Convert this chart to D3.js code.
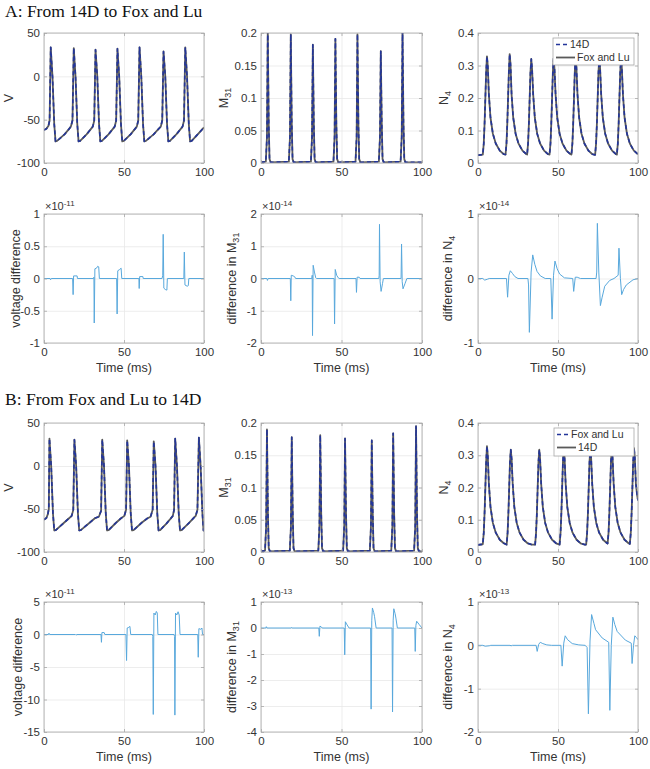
<!DOCTYPE html>
<html><head><meta charset="utf-8">
<script src="https://cdn.jsdelivr.net/npm/d3@7"></script>
<style>body{margin:0;background:#fff}svg{display:block}</style>
</head><body>
<svg id="c" width="650" height="769"></svg>
<script>
// ---------------- DATA ----------------
const xTicks = [0, 50, 100];
const legendA = ["14D", "Fox and Lu"];
const legendB = ["Fox and Lu", "14D"];

// A: membrane voltage V (t ms, mV)
const vA = [[0,-62],[1.5,-60.5],[2.8,-57],[3.5,-51],[4.2,33.4],[5.3,0],[6.4,-55],[7.2,-75],[8.2,-74.5],[12.8,-67],[15.3,-61.5],[16.8,-58],[17.8,-51],
[18.6,32.6],[19.7,0],[20.8,-55],[21.6,-75],[22.6,-74.5],[26.6,-67],[29.0,-61.5],[30.5,-58],[31.4,-51],
[32.2,30.7],[33.3,0],[34.4,-55],[35.2,-75],[36.2,-74.5],[40.3,-67],[42.7,-61.5],[44.2,-58],[45.1,-51],
[45.9,31.8],[47.0,0],[48.1,-55],[48.9,-75],[49.9,-74.5],[54.1,-67],[56.5,-61.5],[58.0,-58],[58.9,-51],
[59.7,33.4],[60.8,0],[61.9,-55],[62.7,-75],[63.7,-74.5],[68.5,-67],[71.2,-61.5],[73.0,-58],[73.9,-51],
[74.7,28.7],[75.8,0],[76.9,-55],[77.7,-75],[78.7,-74.5],[82.7,-67],[85.1,-61.5],[86.6,-58],[87.5,-51],
[88.3,33.4],[89.4,0],[90.5,-55],[91.3,-75],[92.3,-74.5],[96.5,-66],[100,-59]];

const m31A = [[0,0.001],[3.0,0.002],[3.7,0.04],[4.2,0.203],[4.8,0.06],[5.3,0.006],[6.0,0.001],
[17.3,0.002],[18.0,0.04],[18.5,0.198],[19.1,0.06],[19.6,0.006],[20.3,0.001],
[31.0,0.002],[31.7,0.04],[32.2,0.182],[32.8,0.06],[33.3,0.006],[34.0,0.001],
[45.0,0.002],[45.7,0.04],[46.2,0.191],[46.8,0.06],[47.3,0.006],[48.0,0.001],
[58.7,0.002],[59.4,0.04],[59.9,0.198],[60.5,0.06],[61.0,0.006],[61.7,0.001],
[73.2,0.002],[73.9,0.04],[74.4,0.172],[75.0,0.06],[75.5,0.006],[76.2,0.001],
[86.7,0.002],[87.4,0.04],[87.9,0.203],[88.5,0.06],[89.0,0.006],[89.7,0.001],[100,0.001]];

const n4A = [[0,0.024],[3.0,0.026],
[3.6,0.06],[4.1,0.12],[4.6,0.2],[5.1,0.28],[5.6,0.328],[6.1,0.30],[6.8,0.21],[7.8,0.14],[9.3,0.09],[11.1,0.06],[13.6,0.038],[16.1,0.027],
[17.2,0.026],[17.8,0.06],[18.3,0.12],[18.8,0.2],[19.3,0.28],[19.8,0.335],[20.3,0.305],[21.0,0.21],[22.0,0.14],[23.5,0.09],[25.3,0.06],[27.8,0.038],[30.3,0.027],
[30.7,0.026],[31.3,0.06],[31.8,0.12],[32.3,0.2],[32.8,0.28],[33.3,0.320],[33.8,0.29],[34.5,0.21],[35.5,0.14],[37.0,0.09],[38.8,0.06],[41.3,0.038],[43.8,0.027],
[44.7,0.026],[45.3,0.06],[45.8,0.12],[46.3,0.2],[46.8,0.28],[47.3,0.322],[47.8,0.29],[48.5,0.21],[49.5,0.14],[51.0,0.09],[52.8,0.06],[55.3,0.038],[57.8,0.027],
[58.4,0.026],[59.0,0.06],[59.5,0.12],[60.0,0.2],[60.5,0.28],[61.0,0.325],[61.5,0.295],[62.2,0.21],[63.2,0.14],[64.7,0.09],[66.5,0.06],[69.0,0.038],[71.5,0.027],
[73.2,0.025],[73.8,0.06],[74.3,0.12],[74.8,0.2],[75.3,0.28],[75.8,0.323],[76.3,0.293],[77.0,0.21],[78.0,0.14],[79.5,0.09],[81.3,0.06],[83.8,0.038],[86.3,0.027],
[86.8,0.026],[87.4,0.06],[87.9,0.12],[88.4,0.2],[88.9,0.28],[89.4,0.322],[89.9,0.292],[90.6,0.21],[91.6,0.14],[93.1,0.09],[94.9,0.06],[97.4,0.038],[100,0.027]];

// A differences (in units of the axis exponent)
const vDiffA = [[0,0],[3.8,0],[4.1,-0.02],[4.5,0],[17.9,0],[18.2,-0.25],[18.5,0.04],[20.7,0.04],[20.9,0],[30.9,0],[31.2,0.02],[31.4,-0.69],[31.8,0.15],[32.8,0.16],[33.6,0.19],[34.2,0.18],[34.6,0],
[45.4,0],[45.7,-0.55],[46.1,0.12],[47.3,0.14],[48.2,0.16],[48.6,0],[59.3,0],[59.5,-0.155],[59.8,0.03],[61.8,0.03],[62,0],
[73.8,0],[74.2,0.05],[74.5,0.685],[74.9,-0.15],[75.8,-0.17],[76.8,-0.18],[77.1,0],[87.4,0],[87.7,0.41],[88.1,-0.1],[89.5,-0.12],[90.2,-0.11],[90.5,0],[100,0]];
const m31DiffA = [[0,0],[3.7,0],[4.0,-0.06],[4.4,0],[18.2,0],[18.5,-0.69],[18.8,0.1],[20,0.08],[21,0.05],[21.5,0],[31.6,0],[31.8,0.1],[32.0,-1.77],[32.4,0.41],[33.2,0.2],[34,0.02],[34.5,0],
[45.4,0],[45.7,-1.41],[46.1,0.28],[47,0.1],[48,0.02],[48.5,0],[59.0,0],[59.3,-0.43],[59.7,0.04],[61,0.04],[61.5,0],
[73.2,0],[73.4,0.1],[73.6,1.68],[74.0,-0.1],[74.6,-0.4],[75.5,-0.15],[76,0],[87.0,0],[87.3,1.07],[87.7,-0.1],[88.2,-0.32],[89.5,-0.15],[90.6,0],[100,0]];
const n4DiffA = [[0,0],[3,0],[4.2,-0.025],[6,-0.01],[7,0],[17.8,0],[18.5,-0.29],[19.3,0.05],[20.2,0.12],[21.5,0.08],[23,0.03],[25,0],
[31.2,0],[31.6,-0.1],[32.1,-0.835],[33.2,0.1],[34.2,0.366],[35.5,0.22],[36.9,0.11],[39,0.04],[42,0],
[45.5,0],[46.3,-0.63],[47.2,0.05],[48.1,0.27],[49.5,0.15],[51,0.07],[54,0.01],[59.2,0],[59.8,-0.2],[60.8,0.02],[62,0.02],[64,0],
[73.8,0],[74.2,0.1],[74.6,0.855],[75.5,0.1],[76.5,-0.42],[77.5,-0.3],[79.2,-0.12],[82.3,-0.03],[85,0],
[87.6,0.05],[88.1,0.47],[89.0,0.0],[89.8,-0.25],[91,-0.17],[92.7,-0.1],[96.9,-0.02],[100,0]];

// B: membrane voltage V
const vB = [[0,-62.4],[1.5,-60.5],[2.4,-56],[3.0,-50],[3.4,31.8],[4.5,0],[5.6,-55],[6.4,-75],[7.4,-74.5],[12.5,-66],[15.5,-61],[17.3,-58],[18.3,-51],
[19.0,30.6],[20.1,0],[21.2,-55],[22.0,-75],[23.0,-74.5],[28.5,-66],[32,-60.5],[34.3,-59],[35.7,-52],
[36.4,30.6],[37.5,0],[38.6,-55],[39.4,-75],[40.4,-74.5],[45,-66],[48,-61],[50.2,-58],[51.3,-51],
[52.0,29.8],[53.1,0],[54.2,-55],[55.0,-75],[56.0,-74.5],[61,-66],[64.5,-61],[66.6,-59],[67.9,-51],
[68.6,28.7],[69.7,0],[70.8,-55],[71.6,-75],[72.6,-74.5],[76.5,-67],[79.0,-61.5],[80.5,-58],[81.3,-51],
[82.0,31.8],[83.1,0],[84.2,-55],[85.0,-75],[86.0,-74.5],[90.5,-66.5],[93,-61.5],[94.8,-58],[95.9,-51],
[96.8,33],[97.9,0],[99.0,-55],[99.7,-75],[100,-75]];

const m31B = [[0,0.001],[2.5,0.002],[3.2,0.04],[3.7,0.190],[4.3,0.06],[4.8,0.006],[5.5,0.001],
[17.9,0.002],[18.6,0.04],[19.1,0.178],[19.7,0.06],[20.2,0.006],[20.9,0.001],
[35.6,0.002],[36.3,0.04],[36.8,0.181],[37.4,0.06],[37.9,0.006],[38.6,0.001],
[51.0,0.002],[51.7,0.04],[52.2,0.176],[52.8,0.06],[53.3,0.006],[54.0,0.001],
[67.6,0.002],[68.3,0.04],[68.8,0.173],[69.4,0.06],[69.9,0.006],[70.6,0.001],
[80.9,0.002],[81.6,0.04],[82.1,0.184],[82.7,0.06],[83.2,0.006],[83.9,0.001],
[95.1,0.002],[95.8,0.04],[96.3,0.195],[96.9,0.06],[97.4,0.006],[98.1,0.001],[100,0.001]];

const n4B = [[0,0.022],[3.0,0.024],
[3.6,0.06],[4.1,0.12],[4.6,0.2],[5.1,0.28],[5.6,0.328],[6.1,0.30],[6.8,0.21],[7.8,0.14],[9.3,0.09],[11.1,0.06],[13.6,0.038],[16.1,0.027],
[17.9,0.023],[18.5,0.06],[19.0,0.12],[19.5,0.2],[20.0,0.28],[20.5,0.317],[21.0,0.29],[21.7,0.21],[22.7,0.14],[24.2,0.09],[26.0,0.06],[28.5,0.038],[31.0,0.027],[33.5,0.023],
[35.7,0.023],[36.3,0.06],[36.8,0.12],[37.3,0.2],[37.8,0.28],[38.3,0.317],[38.8,0.29],[39.5,0.21],[40.5,0.14],[42.0,0.09],[43.8,0.06],[46.3,0.038],[48.8,0.027],
[51.0,0.023],[51.6,0.06],[52.1,0.12],[52.6,0.2],[53.1,0.28],[53.6,0.32],[54.1,0.292],[54.8,0.21],[55.8,0.14],[57.3,0.09],[59.1,0.06],[61.6,0.038],[64.1,0.027],[66.6,0.023],
[67.6,0.023],[68.2,0.06],[68.7,0.12],[69.2,0.2],[69.7,0.28],[70.2,0.32],[70.7,0.292],[71.4,0.21],[72.4,0.14],[73.9,0.09],[75.7,0.06],[78.2,0.038],[80.7,0.027],
[81.0,0.026],[81.6,0.06],[82.1,0.12],[82.6,0.2],[83.1,0.28],[83.6,0.32],[84.1,0.292],[84.8,0.21],[85.8,0.14],[87.3,0.09],[89.1,0.06],[91.6,0.038],[94.1,0.027],
[94.9,0.025],[95.5,0.06],[96.0,0.12],[96.5,0.2],[97.0,0.28],[97.5,0.322],[98.0,0.294],[98.7,0.21],[99.5,0.175],[100,0.16]];

// B differences
const vDiffB = [[0,0],[2.8,0],[3.1,0.2],[3.5,0],[19.6,0],[20,-0.1],[20.5,0],[35.6,0],[35.9,-1.2],[36.2,0.3],[37.6,0.3],[38,0],
[51.2,0],[51.6,-4.0],[52,1.0],[53,1.1],[53.7,1.25],[54.2,0],[67.7,0],[68,-0.3],[68.3,-12.3],[68.7,3.3],[69.5,3.0],[70.2,3.55],[70.8,3.3],[71.2,0],
[81.3,0],[81.6,-0.3],[81.8,-12.4],[82.2,3.3],[83,3.0],[83.8,3.5],[84.5,3.0],[85,0],[96.1,0],[96.4,-3.5],[96.8,0.9],[98,0.8],[98.7,1.0],[99.1,0],[100,0]];
const m31DiffB = [[0,0],[3,0],[3.3,0.05],[3.7,0],[18.8,0],[19,0.02],[19.3,0],[35.9,0],[36.2,-0.32],[36.6,0.07],[37.5,0.04],[38,0],
[51.7,0],[52,-1.03],[52.4,0.24],[53.2,0.15],[54.7,0],[68.1,0],[68.4,-3.12],[68.8,0.3],[69.2,0.77],[70.0,0.6],[70.5,0.45],[71.5,0],
[81.4,0],[81.7,-3.23],[82.1,0.3],[82.5,0.74],[83.3,0.55],[83.8,0.38],[84.7,0],[95.5,0],[95.8,-0.9],[96.2,0.1],[96.7,0.26],[98.3,0.13],[100,0]];
const n4DiffB = [[0,0],[3,0],[4.5,-0.02],[7,-0.01],[8,0],[20,0],[20.7,-0.01],[21.5,0],[36.3,0],[37,-0.14],[37.9,0.02],[38.9,0.07],[40.5,0.04],[43,0.01],[46,0],
[51.8,0],[52.6,-0.48],[53.6,0.05],[54.5,0.22],[56,0.13],[58.9,0.04],[63,0.01],[67,0],[68.2,-0.05],[69,-1.58],[70,0.1],[71,0.71],[72.5,0.5],[73.5,0.36],[77.6,0.17],[81.7,0.07],
[82.4,-1.5],[83.3,0.0],[84.3,0.65],[85.5,0.48],[87,0.32],[92.1,0.12],[95.8,0.05],[96.3,-0.42],[97.2,0.0],[98,0.22],[99,0.18],[100,0.13]];

// y ticks
const ticksV = [-100,-50,0,50];
const ticksM31 = [0,0.05,0.1,0.15,0.2];
const ticksN4 = [0,0.1,0.2,0.3,0.4];
const ticksVDiffA = [-1,-0.5,0,0.5,1];
const ticksM31DiffA = [-2,-1,0,1,2];
const ticksN4DiffA = [-1,0,1];
const ticksVDiffB = [-15,-10,-5,0,5];
const ticksM31DiffB = [-4,-3,-2,-1,0,1];
const ticksN4DiffB = [-2,-1,0,1];

// ---------------- DRAWING ----------------
const svg = d3.select("#c");
const SANS = "'Liberation Sans', Arial, Helvetica, sans-serif";
const cols = [[44,204],[261,422],[478,638]];
const rows = [[33,163],[214,343],[423,552],[602,732]];
const BOX = "#a8a8a8", GRID = "#e8e8e8", TXT = "#333";
let clipId = 0;

function fmt(d){ return String(d); }

function panel(o){
  const [x0,x1] = cols[o.c], [y0,y1] = rows[o.r];
  const x = d3.scaleLinear().domain([0,100]).range([x0,x1]);
  const y = d3.scaleLinear().domain(d3.extent(o.yticks)).range([y1,y0]);
  const g = svg.append("g");
  const gx = g.append("g").attr("transform",`translate(0,${y1})`)
    .call(d3.axisBottom(x).tickValues(xTicks).tickSize(-(y1-y0)).tickFormat(""));
  const gy = g.append("g").attr("transform",`translate(${x0},0)`)
    .call(d3.axisLeft(y).tickValues(o.yticks).tickSize(-(x1-x0)).tickFormat(""));
  [gx,gy].forEach(a=>{a.select(".domain").remove(); a.selectAll("line").attr("stroke",GRID).attr("stroke-width",0.8);});
  const id = "clip"+(clipId++);
  svg.append("clipPath").attr("id",id).append("rect").attr("x",x0).attr("y",y0).attr("width",x1-x0).attr("height",y1-y0);
  const line = d3.line().x(d=>x(d[0])).y(d=>y(d[1]));
  o.series.forEach(s=>{
    g.append("path").datum(s.data).attr("clip-path",`url(#${id})`).attr("d",line)
      .attr("fill","none").attr("stroke",s.color).attr("stroke-width",s.w)
      .attr("stroke-dasharray",s.dash||null).attr("stroke-linejoin","round");
  });
  g.append("rect").attr("x",x0).attr("y",y0).attr("width",x1-x0).attr("height",y1-y0)
    .attr("fill","none").attr("stroke",BOX).attr("stroke-width",0.8);
  const tk = [
    [d3.axisBottom(x).tickValues(xTicks),`translate(0,${y1})`],
    [d3.axisTop(x).tickValues(xTicks),`translate(0,${y0})`],
    [d3.axisLeft(y).tickValues(o.yticks),`translate(${x0},0)`],
    [d3.axisRight(y).tickValues(o.yticks),`translate(${x1},0)`]];
  tk.forEach(([ax,tr])=>{
    const a = g.append("g").attr("transform",tr).call(ax.tickSize(-3).tickFormat(""));
    a.select(".domain").remove(); a.selectAll("line").attr("stroke",BOX).attr("stroke-width",0.8);
  });
  const lx = g.append("g").attr("transform",`translate(0,${y1})`)
    .call(d3.axisBottom(x).tickValues(xTicks).tickSize(0).tickPadding(5).tickFormat(fmt));
  const ly = g.append("g").attr("transform",`translate(${x0},0)`)
    .call(d3.axisLeft(y).tickValues(o.yticks).tickSize(0).tickPadding(4).tickFormat(fmt));
  [lx,ly].forEach(a=>{a.select(".domain").remove(); a.selectAll("text").attr("font-family",SANS).attr("font-size",11.5).attr("fill",TXT);});
  const yl = g.append("text").attr("transform",`translate(${o.ylx},${(y0+y1)/2}) rotate(-90)`)
    .attr("text-anchor","middle").attr("font-family",SANS).attr("font-size",12.5).attr("fill",TXT);
  yl.append("tspan").text(o.ylabel[0]);
  if (o.ylabel[1]) yl.append("tspan").attr("font-size",9).attr("dy","0.35em").text(o.ylabel[1]);
  if (o.xlabel) g.append("text").attr("x",(x0+x1)/2).attr("y",y1+29).attr("text-anchor","middle")
    .attr("font-family",SANS).attr("font-size",12.5).attr("fill",TXT).text("Time (ms)");
  if (o.exp){
    const t = g.append("text").attr("x",x0+1).attr("y",y0-4).attr("font-family",SANS).attr("font-size",11).attr("fill",TXT);
    t.append("tspan").text("\u00d710");
    t.append("tspan").attr("font-size",8).attr("dy","-0.55em").text(o.exp);
  }
  if (o.legend){
    const L = o.legend;
    g.append("rect").attr("x",L.x).attr("y",L.y).attr("width",L.w).attr("height",L.h)
      .attr("fill","#fff").attr("stroke",BOX).attr("stroke-width",0.8);
    L.items.forEach((name,i)=>{
      const cy = L.y + 6.5 + i*13;
      const s = o.series[1-i];
      g.append("line").attr("x1",L.x+3).attr("x2",L.x+(i===0?15:22)).attr("y1",cy).attr("y2",cy)
        .attr("stroke",s.color).attr("stroke-width",s.w).attr("stroke-dasharray",s.dash||null);
      g.append("text").attr("x",L.x+(i===0?17:24)).attr("y",cy).attr("dy","0.35em")
        .attr("font-family",SANS).attr("font-size",10.5).attr("fill",TXT).text(name);
    });
  }
}

const GREY = "#5a5a5a", NAVY = "#23359a", LB = "#58a8dc";
function pair(d){ return [{data:d,color:GREY,w:1.8},{data:d,color:NAVY,w:1.6,dash:"4,3"}]; }
function diff(d){ return [{data:d,color:LB,w:1}]; }

svg.append("text").attr("x",5).attr("y",17).attr("font-family","'Liberation Serif','Times New Roman',serif")
  .attr("font-size",17.5).attr("fill","#111").text("A: From 14D to Fox and Lu");
svg.append("text").attr("x",5).attr("y",405).attr("font-family","'Liberation Serif','Times New Roman',serif")
  .attr("font-size",17.5).attr("fill","#111").text("B: From Fox and Lu to 14D");

panel({c:0,r:0,yticks:ticksV,series:pair(vA),ylabel:["V"],ylx:13});
panel({c:1,r:0,yticks:ticksM31,series:pair(m31A),ylabel:["M","31"],ylx:228});
panel({c:2,r:0,yticks:ticksN4,series:pair(n4A),ylabel:["N","4"],ylx:448,
  legend:{x:553,y:38,w:81,h:27,items:legendA}});
panel({c:0,r:1,yticks:ticksVDiffA,series:diff(vDiffA),ylabel:["voltage difference"],ylx:20,xlabel:true,exp:"-11"});
panel({c:1,r:1,yticks:ticksM31DiffA,series:diff(m31DiffA),ylabel:["difference in M","31"],ylx:236,xlabel:true,exp:"-14"});
panel({c:2,r:1,yticks:ticksN4DiffA,series:diff(n4DiffA),ylabel:["difference in N","4"],ylx:452,xlabel:true,exp:"-14"});

panel({c:0,r:2,yticks:ticksV,series:pair(vB),ylabel:["V"],ylx:13});
panel({c:1,r:2,yticks:ticksM31,series:pair(m31B),ylabel:["M","31"],ylx:228});
panel({c:2,r:2,yticks:ticksN4,series:pair(n4B),ylabel:["N","4"],ylx:448,
  legend:{x:554,y:428,w:80,h:28,items:legendB}});
panel({c:0,r:3,yticks:ticksVDiffB,series:diff(vDiffB),ylabel:["voltage difference"],ylx:22,xlabel:true,exp:"-11"});
panel({c:1,r:3,yticks:ticksM31DiffB,series:diff(m31DiffB),ylabel:["difference in M","31"],ylx:236,xlabel:true,exp:"-13"});
panel({c:2,r:3,yticks:ticksN4DiffB,series:diff(n4DiffB),ylabel:["difference in N","4"],ylx:452,xlabel:true,exp:"-13"});
</script>
</body></html>
